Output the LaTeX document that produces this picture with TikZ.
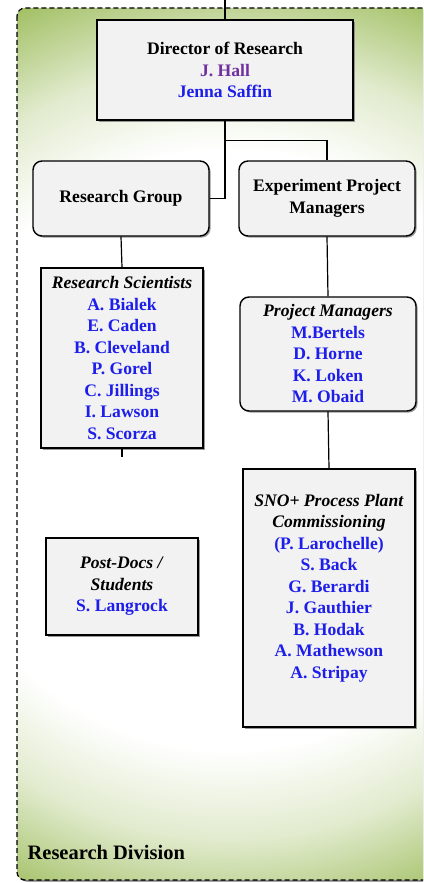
\documentclass[tikz,border=0pt]{standalone}
\usepackage{fontspec}
\setmainfont{Liberation Serif}
\usepackage{tikz}
\usetikzlibrary{shadows}

\definecolor{nameblue}{RGB}{30,30,235}
\definecolor{dirpurple}{RGB}{112,48,160}
\definecolor{boxgray}{RGB}{242,242,242}
\definecolor{divgreen}{RGB}{155,187,89}
\colorlet{divpale}{divgreen!30!white}
\pgfdeclareradialshading{divshade}{\pgfpoint{0bp}{0bp}}{color(0bp)=(white); color(15bp)=(white); color(19.5bp)=(divpale); color(25bp)=(divgreen); color(50bp)=(divgreen)}

\newcommand{\bluename}[1]{\textcolor{nameblue}{#1}}

\begin{document}
\begin{tikzpicture}[x=1pt, y=-1pt, line width=1.2pt,
    box/.style={draw=black, fill=boxgray, line width=1.4pt, inner sep=0pt, align=center,
      font=\bfseries\fontsize{17.6}{21.5}\selectfont,
      drop shadow={shadow xshift=1.6pt, shadow yshift=-1.6pt, fill=black!50, opacity=0.8}},
    roundbox/.style={box, rounded corners=9pt}]
    \useasboundingbox (0,0) rectangle (423,883);
    \clip (0,0) rectangle (423,883);

    % draw division background
    \fill[black!55, rounded corners=8pt] (18.5,9.5) rectangle (446,881.5);
    \begin{scope}
      \clip[rounded corners=8pt] (17,8) rectangle (445,880);
      \shade[shading=divshade] (230,450) circle (500);
    \end{scope}
    \draw[black, line width=1.2pt, dash pattern=on 5pt off 3pt, rounded corners=8pt]
      (17,8) rectangle (445,880);
    \node[anchor=base west, inner sep=0pt, font=\bfseries\fontsize{20.5}{24}\selectfont]
      (divlabel) at (27,859) {Research Division};

    % draw boxes
    \node[box, minimum width=256pt, minimum height=100pt] (dir) at (225,70)
      {Director of Research\\ \textcolor{dirpurple}{J. Hall}\\ \bluename{Jenna Saffin}};
    \node[roundbox, minimum width=176pt, minimum height=75pt] (rg) at (121,198.5)
      {Research Group};
    \node[roundbox, minimum width=176pt, minimum height=75pt] (epm) at (327,198.5)
      {Experiment Project\\ Managers};
    \node[box, minimum width=162pt, minimum height=180pt] (rs) at (122,358)
      {\textit{Research Scientists}\\ \bluename{A. Bialek}\\ \bluename{E. Caden}\\
       \bluename{B. Cleveland}\\ \bluename{P. Gorel}\\ \bluename{C. Jillings}\\
       \bluename{I. Lawson}\\ \bluename{S. Scorza}};
    \node[roundbox, minimum width=176pt, minimum height=114pt] (pm) at (328,354)
      {\textit{Project Managers}\\ \bluename{M.Bertels}\\ \bluename{D. Horne}\\
       \bluename{K. Loken}\\ \bluename{M. Obaid}};
    \node[box, minimum width=152pt, minimum height=97pt] (pd) at (122,586.5)
      {\textit{Post-Docs /}\\ \textit{Students}\\ \bluename{S. Langrock}};
    \node[box, minimum width=172pt, minimum height=258pt, text depth=24pt] (sno) at (329,598)
      {\textit{SNO+ Process Plant}\\ \textit{Commissioning}\\ \bluename{(P. Larochelle)}\\
       \bluename{S. Back}\\ \bluename{G. Berardi}\\ \bluename{J. Gauthier}\\
       \bluename{B. Hodak}\\ \bluename{A. Mathewson}\\ \bluename{A. Stripay}};

    % draw connectors
    \coordinate (top) at (225,0);
    \coordinate (stub) at (122,457);
    \draw (top) -- (dir.north);
    \draw (dir.south) -- ++(0,20) -| (epm.north);
    \draw (dir.south) |- (rg.east);
    \draw (rg.south) -- (rs.north);
    \draw (rs.south) -- (stub);
    \draw (epm.south) -- (pm.north);
    \draw (pm.south) -- (sno.north);
\end{tikzpicture}
\end{document}
